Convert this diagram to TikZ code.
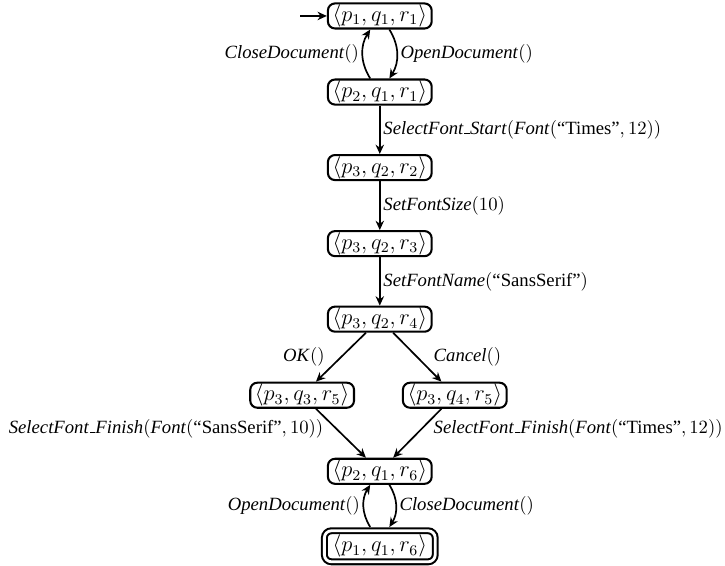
\documentclass[tikz,border=0pt]{standalone}
\usepackage[no-math]{fontspec}
\setmainfont{Liberation Serif}
\usetikzlibrary{arrows.meta}
\newcommand{\uscore}{\kern.06em\rule{.3em}{0.8pt}}

\begin{document}
\begin{tikzpicture}[
    statebox/.style={draw, line width=1.1pt, rounded corners=3.8pt,
                     inner xsep=2.5pt, inner ysep=0.7pt, font=\large},
    finalbox/.style={statebox, double, double distance=1.5pt,
                     inner xsep=4.4pt, inner ysep=2.3pt, outer sep=2pt},
    trans/.style={-{Stealth[length=5pt,width=4.5pt]}, line width=0.9pt},
    lbl/.style={inner sep=1.5pt}]
  \useasboundingbox (0,0) rectangle (13.63,-10.64);
  \node[statebox] (s1) at (7.14,-0.30)  {$\langle p_1, q_1, r_1\rangle$};
  \node[statebox] (s2) at (7.14,-1.73)  {$\langle p_2, q_1, r_1\rangle$};
  \node[statebox] (s3) at (7.14,-3.15)  {$\langle p_3, q_2, r_2\rangle$};
  \node[statebox] (s4) at (7.14,-4.58)  {$\langle p_3, q_2, r_3\rangle$};
  \node[statebox] (s5) at (7.14,-6.00)  {$\langle p_3, q_2, r_4\rangle$};
  \node[statebox] (s6) at (5.68,-7.43)  {$\langle p_3, q_3, r_5\rangle$};
  \node[statebox] (s7) at (8.55,-7.43)  {$\langle p_3, q_4, r_5\rangle$};
  \node[statebox] (s8) at (7.14,-8.86)  {$\langle p_2, q_1, r_6\rangle$};
  \node[finalbox] (s9) at (7.14,-10.27) {$\langle p_1, q_1, r_6\rangle$};
  \coordinate (start) at (5.64,-0.30);
  % initial state and the document loop at the top
  \draw[trans] (start) -- (s1);
  \draw[trans] ([xshift=-1.8mm]s2.north) to[bend left=32]
        node[lbl,left] {\textit{CloseDocument}$()$} ([xshift=-1.8mm]s1.south);
  \draw[trans] ([xshift=1.8mm]s1.south) to[bend left=32]
        node[lbl,right] {\textit{OpenDocument}$()$} ([xshift=1.8mm]s2.north);
  % font dialog
  \draw[trans] (s2) -- node[lbl,right]
        {\textit{SelectFont\uscore Start}$($\textit{Font}$($``Times''$, 12))$} (s3);
  \draw[trans] (s3) -- node[lbl,right] {\textit{SetFontSize}$(10)$} (s4);
  \draw[trans] (s4) -- node[lbl,right]
        {\textit{SetFontName}$($``SansSerif''$)$} (s5);
  \draw[trans] (s5) -- node[lbl,left=2.4mm] {\textit{OK}$()$} (s6);
  \draw[trans] (s5) -- node[lbl,right=2.4mm] {\textit{Cancel}$()$} (s7);
  \draw[trans] (s6) -- node[lbl,pos=0.4,left=1.7mm]
        {\textit{SelectFont\uscore Finish}$($\textit{Font}$($``SansSerif''$, 10))$} (s8);
  \draw[trans] (s7) -- node[lbl,pos=0.4,right=1.5mm]
        {\textit{SelectFont\uscore Finish}$($\textit{Font}$($``Times''$, 12))$} (s8);
  % the document loop at the bottom
  \draw[trans] ([xshift=-1.8mm]s9.north) to[bend left=32]
        node[lbl,left] {\textit{OpenDocument}$()$} ([xshift=-1.8mm]s8.south);
  \draw[trans] ([xshift=1.8mm]s8.south) to[bend left=32]
        node[lbl,right] {\textit{CloseDocument}$()$} ([xshift=1.8mm]s9.north);
\end{tikzpicture}
\end{document}
